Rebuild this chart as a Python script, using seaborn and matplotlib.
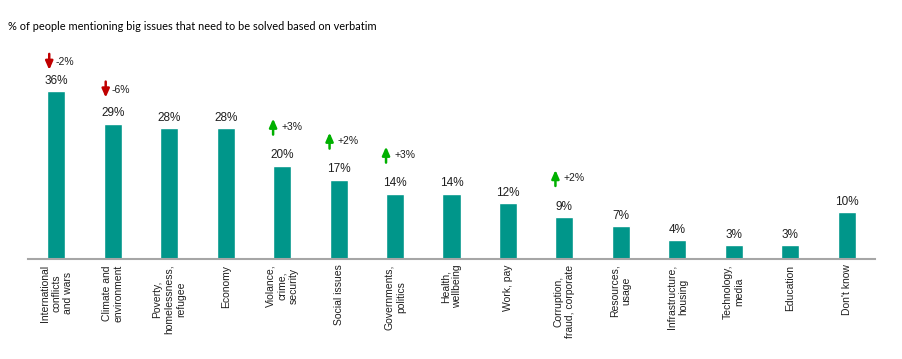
import matplotlib
matplotlib.use("Agg")
import matplotlib.pyplot as plt
import matplotlib.transforms as mtransforms
import pandas as pd
import seaborn as sns

# data
categories = ["International\nconflicts\nand wars", "Climate and\nenvironment", "Poverty,\nhomelessness,\nrefugee",
              "Economy", "Violance,\ncrime,\nsecurity", "Social issues", "Governments,\npolitics",
              "Health,\nwellbeing", "Work, pay", "Corruption,\nfraud, corporate", "Resources,\nusage",
              "Infrastructure,\nhousing", "Technology,\nmedia", "Education", "Don't know"]
values = [36, 29, 28, 28, 20, 17, 14, 14, 12, 9, 7, 4, 3, 3, 10]
change_index = [0, 1, 4, 5, 6, 9]
change_value = [-2, -6, 3, 2, 3, 2]

title = "% of people mentioning big issues that need to be solved based on verbatim"

BAR_COLOR = "#00968A"
UP_COLOR = "#00B000"
DOWN_COLOR = "#C00000"
TEXT_COLOR = "#1F1F1F"
PX = 0.72  # points per pixel at 100 dpi

sns.set_style("white")
plt.rcParams['font.family'] = ['Liberation Sans', 'DejaVu Sans']

df = pd.DataFrame({"issue": categories, "pct": values})

fig = plt.figure(figsize=(9.03, 3.59), dpi=100)
ax = fig.add_axes([28 / 903, 100 / 359, 847 / 903, 219 / 359])
sns.barplot(ax=ax, data=df, x="issue", y="pct", color=BAR_COLOR, width=0.32, saturation=1)

ax.set_xlim(-0.5, len(categories) - 0.5)
ax.set_ylim(0, 46.9)
ax.set_xlabel("")
ax.set_ylabel("")
ax.set_yticks([])
sns.despine(ax=ax, left=True)
ax.spines['bottom'].set_color("#A6A6A6")
ax.spines['bottom'].set_linewidth(1.5)
ax.tick_params(axis='x', length=0, pad=4)
ax.set_xticks(range(len(categories)))
ax.set_xticklabels(categories, rotation=90, fontsize=7.5, color=TEXT_COLOR,
                   ha='center', va='top', multialignment='center')

ax.bar_label(ax.containers[0], labels=[f"{v}%" for v in values], padding=3, fontsize=8.5, color=TEXT_COLOR)

# change arrows above selected bars
for idx, chg in zip(change_index, change_value):
    v = values[idx]
    if idx == 0:
        low = 21
    elif idx == 1:
        low = 26
    else:
        low = 31
    high = low + 16
    if chg < 0:
        tail, head, col, dx = high, low, DOWN_COLOR, -7
    else:
        tail, head, col, dx = low, high, UP_COLOR, -9
    t_tail = mtransforms.offset_copy(ax.transData, fig=fig, x=dx * PX, y=tail * PX, units='points')
    t_head = mtransforms.offset_copy(ax.transData, fig=fig, x=dx * PX, y=head * PX, units='points')
    ax.annotate("", xy=(idx, v), xycoords=t_head, xytext=(idx, v), textcoords=t_tail,
                arrowprops=dict(arrowstyle="-|>,head_length=0.5,head_width=0.22", color=col, lw=1.8,
                                shrinkA=0, shrinkB=0))
    t_txt = mtransforms.offset_copy(ax.transData, fig=fig, x=-1 * PX, y=(low + 8) * PX, units='points')
    ax.text(idx, v, f"{chg:+d}%", transform=t_txt, fontsize=7.5, color=TEXT_COLOR, ha='left', va='center')

fig.text(8 / 903, 1 - 27 / 359, title, fontsize=7.9, color="#000000", ha='left', va='center',
         family=['Lato', 'DejaVu Sans'])

fig.savefig("out.png", dpi=100)
